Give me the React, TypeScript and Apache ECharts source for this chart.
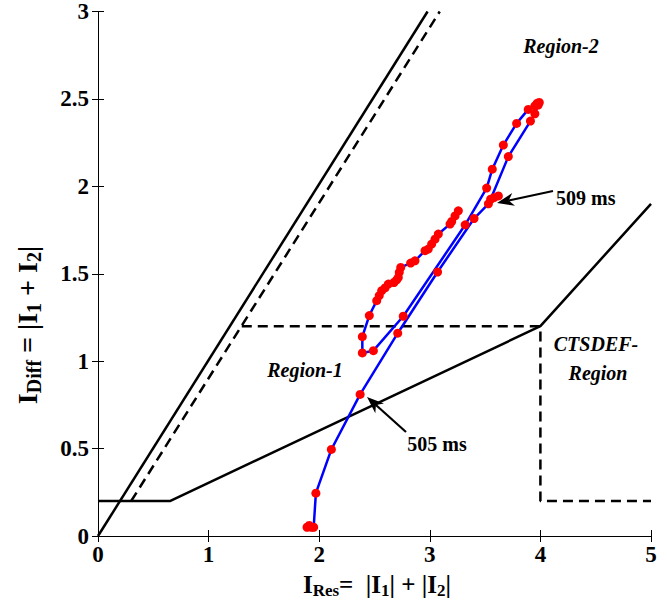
import React, { useEffect, useRef } from "react";
import * as echarts from "echarts";

// Boundary characteristics
const slopeSolid: number[][] = [[0, 0], [2.98, 3]];
const slopeDashed: number[][] = [[0.3, 0.2], [3.09, 3]];
const restraintSolid: number[][] = [[0, 0.2], [0.65, 0.2], [4, 1.2], [5, 1.9]];
const ctsdefDashed: number[][] = [[1.3, 1.2], [4, 1.2], [4, 0.2], [5, 0.2]];

// Trajectory (I_Res, I_Diff)
const trajX: number[] = [
  1.89, 1.91, 1.93, 1.95, 1.97, 2.11, 2.37, 2.71, 3.07, 3.40, 3.53, 3.58, 3.62, 3.55,
  3.71, 3.91, 3.95, 3.98, 3.99, 3.97, 3.95, 3.89, 3.785, 3.665, 3.565, 3.514, 3.32, 2.76,
  2.49, 2.39, 2.39, 2.453, 2.52, 2.543, 2.565, 2.595, 2.625, 2.676, 2.701, 2.715, 2.724,
  2.737, 2.827, 2.866, 2.957, 2.986, 3.017, 3.047, 3.077, 3.183, 3.198, 3.228, 3.258,
];
const trajY: number[] = [
  0.05, 0.06, 0.05, 0.05, 0.245, 0.495, 0.81, 1.16, 1.51, 1.816, 1.90, 1.935, 1.945, 1.926,
  2.17, 2.373, 2.415, 2.465, 2.48, 2.475, 2.46, 2.44, 2.36, 2.236, 2.098, 1.99, 1.78, 1.257,
  1.06, 1.047, 1.14, 1.261, 1.346, 1.375, 1.403, 1.419, 1.441, 1.45, 1.465, 1.479, 1.508,
  1.536, 1.561, 1.574, 1.632, 1.641, 1.670, 1.698, 1.727, 1.784, 1.799, 1.831, 1.860,
];

const SERIF = "'Liberation Serif', 'Times New Roman', serif";

function arrow(x1: number, y1: number, x2: number, y2: number): any[] {
  const dx = x2 - x1;
  const dy = y2 - y1;
  const len = Math.sqrt(dx * dx + dy * dy);
  const ux = dx / len;
  const uy = dy / len;
  const nx = -uy;
  const ny = ux;
  const hl = 17;
  const hw = 6.5;
  const notch = 12;
  const bx = x2 - ux * hl;
  const by = y2 - uy * hl;
  return [
    {
      type: "line",
      z: 100,
      shape: { x1, y1, x2: x2 - ux * notch, y2: y2 - uy * notch },
      style: { stroke: "#000", lineWidth: 2.2 },
    },
    {
      type: "polygon",
      z: 100,
      shape: {
        points: [
          [x2, y2],
          [bx + nx * hw, by + ny * hw],
          [x2 - ux * notch, y2 - uy * notch],
          [bx - nx * hw, by - ny * hw],
        ],
      },
      style: { fill: "#000" },
    },
  ];
}

function label(text: string, x: number, y: number, italic: boolean): any {
  return {
    type: "text",
    z: 100,
    x,
    y,
    style: {
      text,
      fill: "#000",
      font: `${italic ? "italic " : ""}bold 20px ${SERIF}`,
      textAlign: "center",
      textVerticalAlign: "middle",
    },
  };
}

const richX = {
  m: { fontFamily: SERIF, fontWeight: "bold", fontSize: 25, lineHeight: 26, color: "#000" },
  s: {
    fontFamily: SERIF,
    fontWeight: "bold",
    fontSize: 17,
    lineHeight: 18,
    padding: [13, 0, 0, 0],
    color: "#000",
  },
};

const richY = {
  m: { fontFamily: SERIF, fontWeight: "bold", fontSize: 28, lineHeight: 29, color: "#000" },
  s: {
    fontFamily: SERIF,
    fontWeight: "bold",
    fontSize: 20,
    lineHeight: 21,
    padding: [14, 0, 0, 0],
    color: "#000",
  },
};

export default function App() {
  const ref = useRef<HTMLDivElement>(null);
  useEffect(() => {
    document.body.style.margin = "0";
    const chart = echarts.init(ref.current!, null, { renderer: "svg" });
    const traj = trajX.map((x, i) => [x, trajY[i]]);
    const axisCommon = {
      type: "value" as const,
      axisLine: { show: true, lineStyle: { color: "#000", width: 1 } },
      axisTick: { show: true, inside: true, length: 6, lineStyle: { color: "#000", width: 1 } },
      splitLine: { show: false },
    };
    const tickLabel = {
      color: "#000",
      fontFamily: SERIF,
      fontWeight: "bold" as const,
      fontSize: 23,
    };
    chart.setOption({
      animation: false,
      backgroundColor: "#fff",
      grid: { left: 98, right: 16, top: 11, bottom: 66, containLabel: false },
      xAxis: [
        { ...axisCommon, position: "bottom", min: 0, max: 5, interval: 1, axisLabel: { ...tickLabel, margin: 7 } },
        { ...axisCommon, position: "top", min: 0, max: 5, interval: 1, axisLabel: { show: false } },
      ],
      yAxis: [
        { ...axisCommon, position: "left", min: 0, max: 3, interval: 0.5, axisLabel: { ...tickLabel, margin: 9 } },
        { ...axisCommon, position: "right", min: 0, max: 3, interval: 0.5, axisLabel: { show: false } },
      ],
      series: [
        {
          type: "line",
          data: slopeSolid,
          showSymbol: false,
          lineStyle: { color: "#000", width: 2.5, type: "solid" },
          z: 3,
        },
        {
          type: "line",
          data: slopeDashed,
          showSymbol: false,
          lineStyle: { color: "#000", width: 2.5, type: [10, 6] },
          z: 3,
        },
        {
          type: "line",
          data: restraintSolid,
          showSymbol: false,
          lineStyle: { color: "#000", width: 2.5, type: "solid" },
          z: 3,
        },
        {
          type: "line",
          data: ctsdefDashed,
          showSymbol: false,
          lineStyle: { color: "#000", width: 2.5, type: [10, 6] },
          z: 3,
        },
        {
          type: "line",
          data: traj,
          symbol: "circle",
          symbolSize: 9,
          showSymbol: true,
          lineStyle: { color: "#0000ff", width: 2.5 },
          itemStyle: { color: "#ff0000", borderWidth: 0 },
          z: 5,
        },
      ],
      graphic: [
        label("Region-2", 561, 46, true),
        label("Region-1", 305, 370, true),
        label("CTSDEF-", 596, 344, true),
        label("Region", 598, 373, true),
        {
          type: "text",
          z: 100,
          x: 556,
          y: 198,
          style: { text: "509 ms", fill: "#000", font: `bold 20px ${SERIF}`, textAlign: "left", textVerticalAlign: "middle" },
        },
        label("505 ms", 437, 444, false),
        ...arrow(553, 191, 497, 203),
        ...arrow(406, 432, 367, 397),
        {
          type: "text",
          z: 100,
          x: 377,
          y: 584,
          style: {
            text: "{m|I}{s|Res}{m|=  |I}{s|1}{m|| + |I}{s|2}{m||}",
            rich: richX,
            textAlign: "center",
            textVerticalAlign: "middle",
          },
        },
        {
          type: "text",
          z: 100,
          x: 27,
          y: 325,
          rotation: Math.PI / 2,
          style: {
            text: "{m|I}{s|Diff}{m| = |I}{s|1}{m| + I}{s|2}{m||}",
            rich: richY,
            textAlign: "center",
            textVerticalAlign: "middle",
          },
        },
      ],
    });
    return () => chart.dispose();
  }, []);
  return (
    <div
      ref={ref}
      style={{ position: "absolute", left: 0, top: 0, width: 667, height: 602, background: "#fff" }}
    />
  );
}
